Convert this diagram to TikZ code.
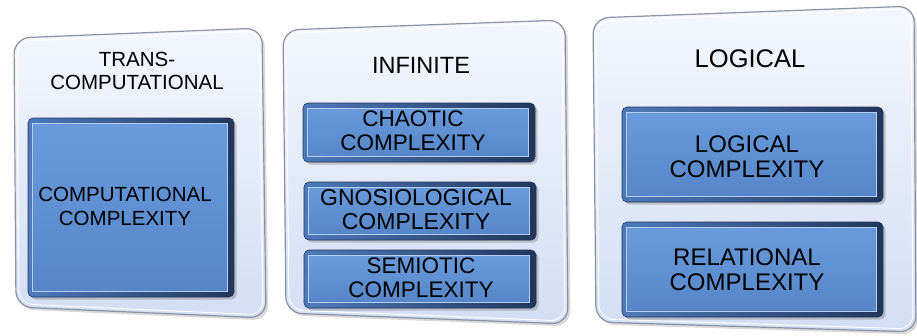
\documentclass[tikz,border=0pt]{standalone}
\usepackage{fontspec}
\setmainfont{Liberation Sans}
\usetikzlibrary{shadows,calc}

\definecolor{panelTop}{RGB}{244,247,253}
\definecolor{panelBot}{RGB}{210,222,244}
\definecolor{panelEdge}{RGB}{138,146,164}
\definecolor{boxEdgeL}{RGB}{78,122,186}
\definecolor{boxEdgeR}{RGB}{34,54,92}
\definecolor{boxTop}{RGB}{104,154,220}
\definecolor{boxBot}{RGB}{86,134,200}
\definecolor{boxLight}{RGB}{180,206,240}

\tikzset{
  panel/.style={draw=panelEdge, line width=1.2pt, rounded corners=16pt,
    top color=panelTop, bottom color=panelBot,
    drop shadow={opacity=0.3, shadow xshift=2.5pt, shadow yshift=-2.5pt}},
  panelrim/.style={draw=white, line width=1pt, rounded corners=14pt},
  boxouter/.style={left color=boxEdgeL, right color=boxEdgeR, draw=boxEdgeR, line width=0.6pt,
    rounded corners=5pt,
    drop shadow={opacity=0.4, shadow xshift=2.5pt, shadow yshift=-2.5pt}},
  boxinner/.style={top color=boxTop, bottom color=boxBot, draw=boxLight, line width=0.8pt},
  label/.style={align=center, inner sep=0pt, text=black}
}

% bevelled blue box: #1 top-left, #2 bottom-right
\newcommand{\bevelbox}[2]{%
  \path[boxouter] #1 rectangle #2;
  \path[boxinner] ($#1+(4,5)$) rectangle ($#2+(-7,-6)$);
}

\begin{document}
\begin{tikzpicture}[x=1pt,y=-1pt]
\useasboundingbox (0,0) rectangle (917,335);

% outer panels, slightly tilted
\path[panel] (14,38) -- (262,28) -- (266,318) -- (16,307) -- cycle;
\path[panelrim] (17,41) -- (259,31) -- (263,315) -- (19,304) -- cycle;
\path[panel] (283,30) -- (565,20) -- (568,324) -- (286,313) -- cycle;
\path[panelrim] (286,33) -- (562,23) -- (565,321) -- (289,310) -- cycle;
\path[panel] (593,18) -- (914,6) -- (916,332) -- (596,322) -- cycle;
\path[panelrim] (596,21) -- (911,9) -- (913,329) -- (599,319) -- cycle;

% inner blue boxes
\bevelbox{(28,118)}{(234,297)}
\bevelbox{(303,103)}{(535,162)}
\bevelbox{(304,182)}{(536,240)}
\bevelbox{(304,250)}{(536,308)}
\bevelbox{(622,107)}{(883,202)}
\bevelbox{(622,222)}{(883,317)}

% titles
\node[label, font=\fontsize{20.5}{23}\selectfont] (t1) at (137,71) {TRANS-\\COMPUTATIONAL};
\node[label, font=\fontsize{23.5}{25}\selectfont] (t2) at (421,65) {INFINITE};
\node[label, font=\fontsize{25.5}{27}\selectfont] (t3) at (750,59) {LOGICAL};

% box texts
\node[label, font=\fontsize{20.5}{24}\selectfont] (c1) at (125,206) {COMPUTATIONAL\\COMPLEXITY};
\node[label, font=\fontsize{22.5}{24}\selectfont] (c2) at (413,131) {CHAOTIC\\COMPLEXITY};
\node[label, font=\fontsize{23}{24}\selectfont] (c3) at (416,210) {GNOSIOLOGICAL\\COMPLEXITY};
\node[label, font=\fontsize{22.5}{24}\selectfont] (c4) at (421,278) {SEMIOTIC\\COMPLEXITY};
\node[label, font=\fontsize{24}{25}\selectfont] (c5) at (747,157) {LOGICAL\\COMPLEXITY};
\node[label, font=\fontsize{24}{25}\selectfont] (c6) at (747,270) {RELATIONAL\\COMPLEXITY};
\end{tikzpicture}
\end{document}
